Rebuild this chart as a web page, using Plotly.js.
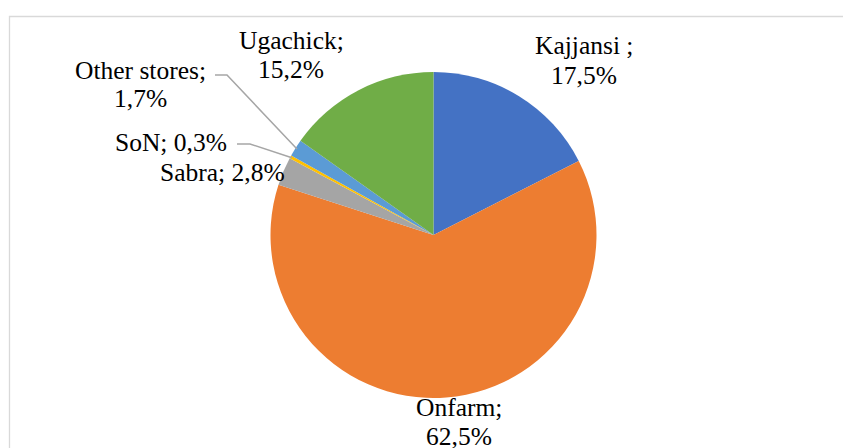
<!DOCTYPE html>
<html>
<head>
<meta charset="utf-8">
<script src="https://cdn.plot.ly/plotly-3.0.1.min.js"></script>
<style>
  html, body { margin: 0; padding: 0; background: #ffffff; }
  #chart { width: 843px; height: 448px; }
</style>
</head>
<body>
<div id="chart"></div>
<script>
// Data
const categories = ["Kajjansi ", "Onfarm", "Sabra", "SoN", "Other stores", "Ugachick"];
const shares = [17.5, 62.5, 2.8, 0.3, 1.7, 15.2];
const sliceColors = ["#4472C4", "#ED7D31", "#A5A5A5", "#FFC000", "#5B9BD5", "#70AD47"];

// Label layout: centre x, first-line centre y, and whether the value wraps
const labelPos = [
  {x: 584, y: 46, br: true},
  {x: 459, y: 407, br: true},
  {x: 223, y: 172, br: false},
  {x: 171, y: 142, br: false},
  {x: 140, y: 70, br: true},
  {x: 291, y: 40, br: true}
];
const LINE_GAP = 29;
// leader-line start (label side) for small slices
const leaders = {
  3: {x0: 237, y0: 144, x1: 250},
  4: {x0: 215, y0: 75, x1: 227}
};

const W = 843, H = 448;
const cx = 433.5, cy = 235, R = 163;
const px = x => x / W;
const py = y => 1 - y / H;

function fmt(v) { return v.toFixed(1).replace('.', ',') + '%'; }

const FONT = 'Liberation Serif, Times New Roman, serif';
const FSIZE = 25.5;

const annotations = [];
categories.forEach((c, i) => {
  const p = labelPos[i];
  const lines = p.br ? [c + ';', fmt(shares[i])] : [c + '; ' + fmt(shares[i])];
  lines.forEach((t, k) => {
    annotations.push({
      text: t,
      x: px(p.x), y: py(p.y + k * LINE_GAP),
      xref: 'paper', yref: 'paper',
      xanchor: 'center', yanchor: 'middle',
      showarrow: false, align: 'center',
      font: {family: FONT, size: FSIZE, color: '#000000'}
    });
  });
});

// leader lines computed from slice mid-angles
const total = shares.reduce((a, b) => a + b, 0);
const shapes = [];
let cum = 0;
shares.forEach((v, i) => {
  const mid = (cum + v / 2) / total * 2 * Math.PI;
  cum += v;
  if (leaders[i]) {
    const ex = cx + R * Math.sin(mid) * 0.99;
    const ey = cy - R * Math.cos(mid) * 0.99;
    const L = leaders[i];
    shapes.push({
      type: 'path', xref: 'paper', yref: 'paper',
      path: `M ${px(L.x0)} ${py(L.y0)} L ${px(L.x1)} ${py(L.y0)} L ${px(ex)} ${py(ey)}`,
      line: {color: '#A6A6A6', width: 1.5}
    });
  }
});
// chart border
shapes.push({
  type: 'rect', xref: 'paper', yref: 'paper',
  x0: px(9.5), x1: px(900), y0: py(16.5), y1: py(600),
  line: {color: '#D9D9D9', width: 1.3}, fillcolor: 'rgba(0,0,0,0)', layer: 'below'
});

const trace = {
  type: 'pie',
  labels: categories,
  values: shares,
  sort: false,
  direction: 'clockwise',
  rotation: 0,
  textinfo: 'none',
  hoverinfo: 'label+percent',
  marker: {colors: sliceColors, line: {color: '#ffffff', width: 0}},
  domain: {x: [px(cx - R), px(cx + R)], y: [py(cy + R), py(cy - R)]},
  showlegend: false
};

const layout = {
  width: W, height: H,
  margin: {l: 0, r: 0, t: 0, b: 0},
  paper_bgcolor: '#ffffff',
  plot_bgcolor: '#ffffff',
  font: {family: FONT},
  showlegend: false,
  annotations: annotations,
  shapes: shapes
};

Plotly.newPlot('chart', [trace], layout, {displayModeBar: false, staticPlot: true});
</script>
</body>
</html>
